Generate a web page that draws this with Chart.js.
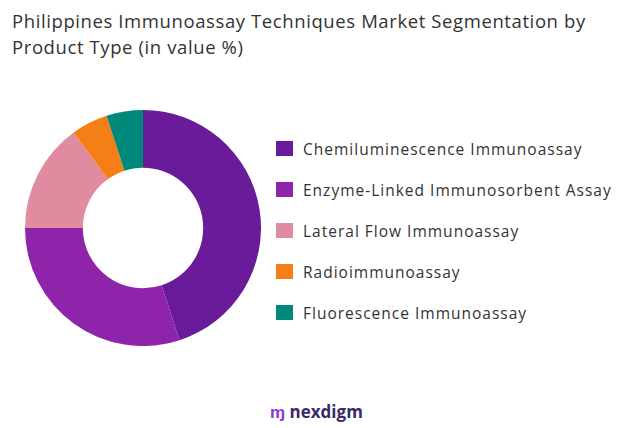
<!DOCTYPE html>
<html><head><meta charset="utf-8">
<script src="https://cdn.jsdelivr.net/npm/chart.js@4"></script>
<style>
body{margin:0;width:624px;height:428px;background:#fff;font-family:"Open Sans",sans-serif;position:relative;overflow:hidden}
#title{position:absolute;left:12px;top:8px;font-size:18.5px;line-height:26px;color:#333;letter-spacing:0.6px}
#wrap{position:absolute;left:25px;top:110px;width:236px;height:236px}
#legend{position:absolute;left:276px;top:128px}
.item{display:flex;align-items:center;height:41px;font-size:15.5px;color:#333;letter-spacing:1px}
.sw{width:17px;height:15px;margin-right:10px}
#logo{position:absolute;left:270px;top:400px;font-size:17px;font-weight:bold;color:#3a2a6a}
#logo span{color:#8a3bd1}
</style></head><body>
<div id="title">Philippines Immunoassay Techniques Market Segmentation by<br>Product Type (in value %)</div>
<div id="wrap"><canvas id="c"></canvas></div>
<div id="legend"></div>
<div id="logo"><span>ɱ</span> nexdigm</div>
<script>
const categories=["Chemiluminescence Immunoassay","Enzyme-Linked Immunosorbent Assay","Lateral Flow Immunoassay","Radioimmunoassay","Fluorescence Immunoassay"];
const values=[45,30,15,5,5];
const colors=["#6a1b9a","#8e24aa","#e08ba0","#f57f17","#00897b"];
const lg=document.getElementById('legend');
categories.forEach((c,i)=>{lg.innerHTML+=`<div class="item"><div class="sw" style="background:${colors[i]}"></div>${c}</div>`;});
new Chart(document.getElementById('c'),{type:'doughnut',
data:{labels:categories,datasets:[{data:values,backgroundColor:colors,borderWidth:0}]},
options:{responsive:true,maintainAspectRatio:false,animation:false,cutout:'51%',
plugins:{legend:{display:false},tooltip:{enabled:false}}}});
</script></body></html>
